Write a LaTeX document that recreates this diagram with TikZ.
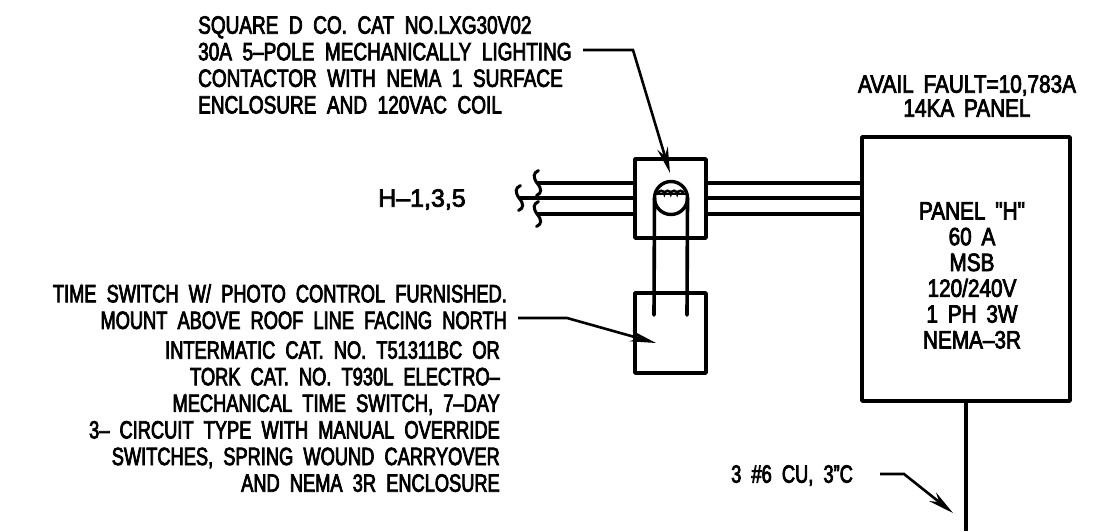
\documentclass[tikz,border=0pt]{standalone}
\usepackage{fontspec}
\setmainfont[FakeStretch=0.73,FakeBold=3,WordSpace=2]{Liberation Sans}
\newfontfamily\contactfont[FakeStretch=0.76,FakeBold=3,WordSpace=2]{Liberation Sans}
\newfontfamily\panelfont[FakeStretch=0.83,FakeBold=3,WordSpace=1.7]{Liberation Sans}
\newfontfamily\circuitfont[FakeStretch=1,FakeBold=3]{Liberation Sans}
\usetikzlibrary{arrows.meta}
\tikzset{
  boxline/.style={draw, line width=3.8pt, line join=round, inner sep=0pt, outer sep=0pt},
  wire/.style={line width=3.6pt},
  leader/.style={line width=2.6pt, -{Stealth[length=26pt,width=11pt]}},
  notetext/.style={inner sep=0pt, font=\fontsize{25}{26.6}\selectfont},
  squiggle/.pic={\draw[line width=3pt, line cap=round] (1.5,-12.5) .. controls (-4,-10) and (-4,-6) .. (0,0) .. controls (5,6) and (5,10) .. (-0.5,12.5);}
}
\begin{document}
\begin{tikzpicture}[x=1pt, y=-1pt]
  \useasboundingbox (0,0) rectangle (1109,531);
  % boxes
  \node[boxline, minimum width=71pt, minimum height=79pt] (contactor) at (670.5,198.5) {};
  \node[boxline, minimum width=71pt, minimum height=80pt] (timesw) at (670.5,333) {};
  \node[boxline, minimum width=208pt, minimum height=264pt] (panel) at (966,269) {};
  \node[circle, draw, line width=3.4pt, inner sep=0pt, outer sep=0pt, minimum size=33pt] (coil) at (671,198) {};
  % texts
  \node[notetext, anchor=north west, align=left] (contactnote) at (198,16) {\contactfont SQUARE D CO. CAT NO.LXG30V02\\\contactfont 30A 5–POLE MECHANICALLY LIGHTING\\\contactfont CONTACTOR WITH NEMA 1 SURFACE\\\contactfont ENCLOSURE AND 120VAC COIL};
  \node[notetext, anchor=north, align=center, font=\panelfont\fontsize{25}{24}\selectfont] (faultnote) at (967,75) {AVAIL FAULT=10,783A\\14KA PANEL};
  \node[notetext, anchor=north, align=center, font=\panelfont\fontsize{25}{25.8}\selectfont] (panelnote) at (972,202) {PANEL "H"\\60 A\\MSB\\120/240V\\1 PH 3W\\NEMA–3R};
  \node[notetext, anchor=north west, font=\circuitfont\fontsize{25}{26}\selectfont] (circuitnote) at (378,189) {H–1,3,5};
  \node[notetext, anchor=north east, align=right] (roofnote) at (507,284) {TIME SWITCH W/ PHOTO CONTROL FURNISHED.\\MOUNT ABOVE ROOF LINE FACING NORTH};
  \node[notetext, anchor=north east, align=right] (modelnote) at (500,341) {INTERMATIC CAT. NO. T51311BC OR\\TORK CAT. NO. T930L ELECTRO–\\MECHANICAL TIME SWITCH, 7–DAY\\3– CIRCUIT TYPE WITH MANUAL OVERRIDE\\SWITCHES, SPRING WOUND CARRYOVER\\AND NEMA 3R ENCLOSURE};
  \node[notetext, anchor=north west] (feednote) at (731,465) {3 \#6 CU, 3"C};
  % wire ends
  \coordinate (wirea) at (537,183);
  \coordinate (wireb) at (519,198);
  \coordinate (wirec) at (537,214);
  \coordinate (coila) at (654,315);
  \coordinate (coilb) at (687,315);
  \coordinate (feedend) at (966,531);
  % wires
  \draw[wire] (wirea) -- (wirea -| contactor.west);
  \draw[wire] (wireb) -- (wireb -| contactor.west);
  \draw[wire] (wirec) -- (wirec -| contactor.west);
  \draw[wire] (wirea -| contactor.east) -- (wirea -| panel.west);
  \draw[wire] (wireb -| contactor.east) -- (wireb -| panel.west);
  \draw[wire] (wirec -| contactor.east) -- (wirec -| panel.west);
  \pic at (wirea) {squiggle};
  \pic at (wireb) {squiggle};
  \pic at (wirec) {squiggle};
  \draw[wire, line cap=round] (coil.west) -- (coila);
  \draw[wire, line cap=round] (coil.east) -- (coilb);
  \draw[wire] (panel.south) -- (feedend);
  % coil winding
  \draw[line width=2.6pt] (655,194) -- (687,194);
  \draw[line width=2.6pt] (658,194) arc[start angle=180, end angle=0, radius=3.2pt] arc[start angle=180, end angle=0, radius=3.2pt] arc[start angle=180, end angle=0, radius=3.2pt] arc[start angle=180, end angle=0, radius=3.2pt];
  % leaders
  \coordinate (leada) at (583,50);
  \coordinate (tipa) at (670,173);
  \coordinate (leadb) at (518,318);
  \coordinate (tipb) at (656,343);
  \coordinate (leadc) at (880,474);
  \coordinate (tipc) at (953,513);
  \draw[leader] (leada) -- (633,50) -- (tipa);
  \draw[leader] (leadb) -- (567,318) -- (tipb);
  \draw[leader] (leadc) -- (904,474) -- (tipc);
\end{tikzpicture}
\end{document}
